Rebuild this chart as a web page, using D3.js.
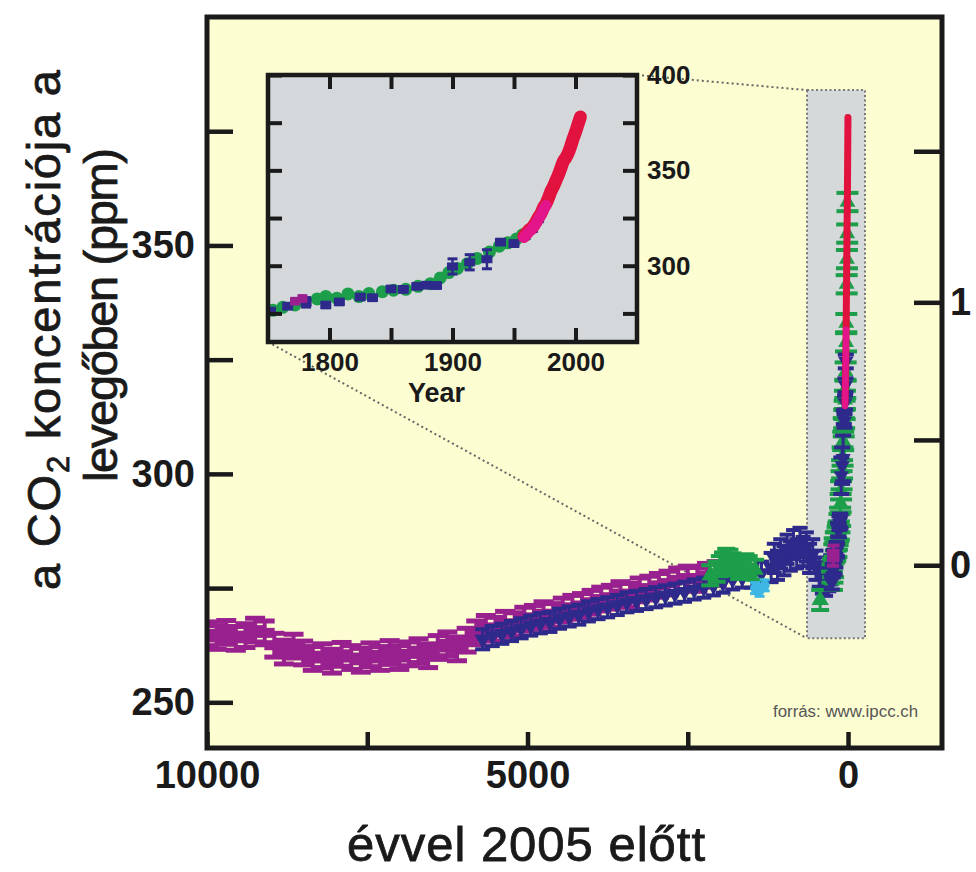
<!DOCTYPE html>
<html>
<head>
<meta charset="utf-8">
<script src="https://cdn.jsdelivr.net/npm/d3@7"></script>
<style>
  body { margin: 0; background: #fff; }
  svg { display: block; font-family: "Liberation Sans", Arial, Helvetica, sans-serif; }
</style>
</head>
<body>
<div id="plot"></div>
<script>
// ---- data: main panel (years before 2005, ppm) ----
const purpleBP  = [10000, 9850, 9700, 9550, 9400, 9250, 9100, 8950, 8800, 8650, 8500, 8350, 8200, 8050, 7900, 7750, 7600, 7450, 7300, 7150, 7000, 6850, 6700, 6550, 6400, 6250, 6100, 5950, 5800, 5650, 5500, 5350, 5200, 5050, 4900, 4750, 4600, 4450, 4300, 4150, 4000, 3850, 3700, 3550, 3400, 3250, 3100, 2950, 2800, 2650, 2500, 2350, 2200, 2050];
const purplePpm = [265.0, 264.2, 265.3, 264.0, 264.6, 265.8, 265.2, 262.5, 261.0, 262.3, 260.8, 259.6, 260.2, 259.0, 260.5, 259.8, 259.2, 260.4, 259.6, 260.9, 259.8, 260.6, 261.3, 260.2, 262.0, 262.8, 261.7, 263.6, 265.2, 266.4, 266.0, 267.3, 267.0, 268.2, 268.6, 269.4, 269.0, 270.2, 270.8, 271.2, 271.9, 272.6, 273.0, 273.8, 273.4, 274.6, 275.0, 275.6, 276.1, 276.8, 277.2, 276.9, 277.8, 278.2];

const blueBP  = [5700, 5550, 5400, 5250, 5100, 4950, 4800, 4650, 4500, 4350, 4200, 4050, 3900, 3750, 3600, 3450, 3300, 3150, 3000, 2850, 2700, 2550, 2400, 2250, 2100, 1950, 1800, 1650, 1500, 1350, 1200, 1150, 1100, 1050, 1000, 950, 900, 850, 800, 750, 700, 650, 600, 550, 500, 450, 400, 350, 300, 270];
const bluePpm = [263.8, 264.5, 265.0, 265.6, 266.2, 266.8, 267.3, 267.6, 268.3, 268.8, 269.2, 269.9, 270.4, 270.8, 271.3, 271.9, 272.2, 272.6, 273.0, 273.4, 273.8, 274.2, 274.7, 275.1, 275.6, 276.2, 276.9, 277.3, 277.6, 278.3, 279.5, 281.5, 280.0, 282.5, 281.0, 283.5, 282.0, 284.5, 282.5, 285.0, 283.0, 284.0, 281.5, 282.5, 280.0, 278.5, 277.0, 276.5, 277.5, 279.0];
const blueErr = [2.2, 2.2, 2.2, 2.2, 2.2, 2.2, 2.2, 2.2, 2.2, 2.2, 2.2, 2.2, 2.2, 2.2, 2.2, 2.2, 2.2, 2.2, 2.2, 2.2, 2.2, 2.2, 2.2, 2.2, 2.2, 2.2, 2.2, 2.2, 2.5, 2.5, 3.2, 3.2, 3.2, 3.2, 3.2, 3.2, 3.2, 3.2, 3.2, 3.2, 3.2, 3.2, 3.2, 3.2, 3.2, 3.2, 3.2, 3.2, 3.2, 3.2];

const greenBP  = [2150, 2050, 2000, 1950, 1900, 1850, 1800, 1750, 1700, 1650, 1600, 1550, 1450, 435];
const greenPpm = [277.8, 278.6, 279.8, 280.6, 281.4, 281.2, 280.4, 280.0, 279.2, 279.4, 280.2, 279.8, 279.0, 272.4];

const cyanBP  = [1450, 1380, 1300];
const cyanPpm = [275.0, 274.4, 275.6];

// ---- data: inset (calendar year, ppm) ----
const insetGreenYear = [1754, 1762, 1772, 1790, 1797, 1806, 1815, 1824, 1832, 1843, 1852, 1862, 1872, 1882, 1890, 1897, 1904, 1912, 1920, 1930, 1938, 1945, 1952, 1957, 1962, 1968, 1974, 1978, 1984, 1988, 1992, 1996];
const insetGreenPpm  = [276.6, 278.2, 279.4, 282.6, 283.9, 283.0, 285.2, 283.8, 285.4, 286.4, 287.2, 287.6, 289.2, 290.6, 293.6, 296.4, 298.6, 301.0, 303.8, 307.2, 310.2, 312.0, 314.0, 316.2, 318.6, 322.4, 328.8, 333.0, 341.5, 347.0, 352.6, 359.5];

const insetBlueYear = [1752, 1766, 1781, 1797, 1808, 1825, 1835, 1850, 1860, 1871, 1879, 1887, 1900, 1914, 1928, 1939, 1950, 1959, 1965, 1970];
const insetBluePpm  = [276.2, 278.8, 280.8, 279.4, 281.0, 283.6, 283.2, 287.8, 287.6, 289.2, 289.8, 289.6, 299.6, 301.8, 303.4, 312.4, 311.6, 315.6, 319.4, 324.6];
const insetBlueErr  = [1.5, 1.5, 2.5, 1.5, 1.5, 1.5, 1.5, 1.5, 1.5, 1.5, 1.5, 1.5, 4.0, 4.0, 5.0, 1.5, 1.5, 1.5, 1.5, 1.5];

const insetPurpleYear = [1772, 1778];
const insetPurplePpm  = [281.4, 282.8];

const redYear = [1958, 1960, 1962, 1964, 1966, 1968, 1970, 1972, 1974, 1976, 1978, 1980, 1982, 1984, 1986, 1988, 1990, 1992, 1994, 1996, 1998, 2000, 2002, 2004];
const redPpm  = [315.5, 317.0, 318.5, 319.5, 321.0, 323.0, 325.5, 327.5, 330.5, 332.5, 335.5, 339.0, 341.5, 344.5, 347.5, 351.0, 354.5, 356.5, 359.0, 362.5, 366.5, 370.0, 374.0, 378.0];

const pinkYear = [1958, 1960, 1962, 1964, 1966, 1968, 1970, 1972, 1974, 1976];
const pinkPpm  = [314.8, 316.2, 317.6, 318.9, 320.4, 322.3, 324.6, 326.8, 329.4, 331.6];

// ---- ticks ----
const mainXTicks = [10000, 7500, 5000, 2500, 0];
const mainXLabels = [10000, 5000, 0];
const mainYTicks = [250, 275, 300, 325, 350, 375];
const mainYLabels = [250, 300, 350];
const forcingTicks = [0, 0.5, 1, 1.5];
const forcingLabels = [0, 1];
const insetXTicks = [1800, 1850, 1900, 1950, 2000];
const insetXLabels = [1800, 1900, 2000];
const insetYTicks = [275, 300, 325, 350, 375, 400];
const insetYLabels = [300, 350, 400];

// highlighted period on the main axis (years before 2005, ppm)
const zoomBoxBP = [640, -265];
const zoomBoxPpm = [264, 384];

const C = {
  bg: "#fdfdd2", inset: "#d5d8da", box: "#d6d9da",
  purple: "#98218f", blue: "#2d2a8c", green: "#1d9e4a", cyan: "#3db6e4",
  red: "#e2123e", pink: "#e2168a", ink: "#1a1a1a"
};

const width = 976, height = 872;
const frame = { left: 207, top: 17, right: 942, bottom: 748 };
const inset = { left: 268, top: 75, right: 637, bottom: 342 };

const svg = d3.select("#plot").append("svg")
  .attr("width", width).attr("height", height);

svg.append("rect").attr("width", width).attr("height", height).attr("fill", "#fff");

// scales
const x = d3.scaleLinear().domain([10000, -1466]).range([frame.left, frame.right]);
const y = d3.scaleLinear().domain([240, 400]).range([frame.bottom, frame.top]);
const ix = d3.scaleLinear().domain([1750, 2050]).range([inset.left, inset.right]);
const iy = d3.scaleLinear().domain([260, 400]).range([inset.bottom, inset.top]);

const defs = svg.append("defs");
defs.append("clipPath").attr("id", "clipMain").append("rect")
  .attr("x", frame.left).attr("y", frame.top)
  .attr("width", frame.right - frame.left).attr("height", frame.bottom - frame.top);
defs.append("clipPath").attr("id", "clipInset").append("rect")
  .attr("x", inset.left).attr("y", inset.top)
  .attr("width", inset.right - inset.left).attr("height", inset.bottom - inset.top);

// main background
svg.append("rect")
  .attr("x", frame.left).attr("y", frame.top)
  .attr("width", frame.right - frame.left).attr("height", frame.bottom - frame.top)
  .attr("fill", C.bg);

// highlight box
svg.append("rect")
  .attr("x", x(zoomBoxBP[0])).attr("y", y(zoomBoxPpm[1]))
  .attr("width", x(zoomBoxBP[1]) - x(zoomBoxBP[0]))
  .attr("height", y(zoomBoxPpm[0]) - y(zoomBoxPpm[1]))
  .attr("fill", C.box)
  .attr("stroke", "#777").attr("stroke-width", 2).attr("stroke-dasharray", "2,2.5");

// connector lines
const conn = svg.append("g").attr("stroke", "#666").attr("stroke-width", 2).attr("stroke-dasharray", "2,3");
conn.append("line")
  .attr("x1", ix(2050)).attr("y1", iy(400))
  .attr("x2", x(zoomBoxBP[0])).attr("y2", y(zoomBoxPpm[1]));
conn.append("line")
  .attr("x1", ix(1750)).attr("y1", iy(260))
  .attr("x2", x(zoomBoxBP[0])).attr("y2", y(zoomBoxPpm[0]));

// error-bar markers
function errorMarks(parent, xs, ys, errs, sx, sy, o) {
  const pts = xs.map((v, i) => ({ x: v, y: ys[i], e: Array.isArray(errs) ? errs[i] : errs }));
  const g = parent.append("g").attr("fill", o.color).attr("stroke", o.color);
  const m = g.selectAll("g").data(pts).join("g")
    .attr("transform", d => `translate(${sx(d.x)},${sy(d.y)})`);
  m.append("line")
    .attr("y1", d => sy(d.y + d.e) - sy(d.y)).attr("y2", d => sy(d.y - d.e) - sy(d.y))
    .attr("stroke-width", o.stem);
  m.append("line")
    .attr("x1", -o.cap / 2).attr("x2", o.cap / 2)
    .attr("y1", d => sy(d.y + d.e) - sy(d.y)).attr("y2", d => sy(d.y + d.e) - sy(d.y))
    .attr("stroke-width", o.capW);
  m.append("line")
    .attr("x1", -o.cap / 2).attr("x2", o.cap / 2)
    .attr("y1", d => sy(d.y - d.e) - sy(d.y)).attr("y2", d => sy(d.y - d.e) - sy(d.y))
    .attr("stroke-width", o.capW);
  if (o.shape === "rect") {
    m.append("rect").attr("x", -o.w / 2).attr("y", -o.h / 2)
      .attr("width", o.w).attr("height", o.h).attr("stroke", "none");
  } else if (o.shape === "circle") {
    m.append("circle").attr("r", o.r).attr("stroke", "none");
  } else {
    m.append("path").attr("stroke", "none")
      .attr("d", d3.symbol(d3.symbolTriangle, o.size))
      .attr("transform", o.shape === "down" ? "rotate(180)" : null);
  }
}

const toBP = yr => 2005 - yr;

// main data
const dataMain = svg.append("g").attr("clip-path", "url(#clipMain)");
errorMarks(dataMain, purpleBP, purplePpm, 2.6, x, y,
  { color: C.purple, stem: 4, cap: 20, capW: 5, shape: "rect", w: 20, h: 10 });
errorMarks(dataMain, blueBP, bluePpm, blueErr, x, y,
  { color: C.blue, stem: 3, cap: 15, capW: 4, shape: "down", size: 120 });
errorMarks(dataMain, greenBP, greenPpm, 2.2, x, y,
  { color: C.green, stem: 3, cap: 18, capW: 4, shape: "up", size: 130 });
errorMarks(dataMain, cyanBP, cyanPpm, 1.2, x, y,
  { color: C.cyan, stem: 3, cap: 10, capW: 3, shape: "circle", r: 5 });
// industrial era compressed near 0
errorMarks(dataMain, insetGreenYear.map(toBP), insetGreenPpm, 2.0, x, y,
  { color: C.green, stem: 3, cap: 22, capW: 4, shape: "up", size: 110 });
errorMarks(dataMain, insetBlueYear.map(toBP), insetBluePpm, insetBlueErr, x, y,
  { color: C.blue, stem: 3, cap: 16, capW: 4, shape: "down", size: 100 });
errorMarks(dataMain, insetPurpleYear.map(toBP), insetPurplePpm, 1.5, x, y,
  { color: C.purple, stem: 3, cap: 12, capW: 4, shape: "rect", w: 12, h: 7 });

const lineMain = d3.line().x(d => x(toBP(d[0]))).y(d => y(d[1]));
dataMain.append("path").datum(d3.zip(redYear, redPpm))
  .attr("d", lineMain).attr("fill", "none").attr("stroke", C.red)
  .attr("stroke-width", 7).attr("stroke-linecap", "round");
dataMain.append("path").datum(d3.zip(pinkYear, pinkPpm))
  .attr("d", lineMain).attr("fill", "none").attr("stroke", C.pink)
  .attr("stroke-width", 6).attr("stroke-linecap", "round");

// main axes
const tickFont = g => g.selectAll("text")
  .style("font-size", "38px").style("font-weight", "bold").attr("fill", C.ink);
const tickLines = g => g.selectAll("line").attr("stroke", C.ink).attr("stroke-width", 4.5);

svg.append("g").attr("transform", `translate(${frame.left},0)`)
  .call(d3.axisLeft(y).tickValues(mainYTicks).tickSize(-26).tickPadding(12)
    .tickFormat(d => mainYLabels.includes(d) ? d : ""))
  .call(g => g.select(".domain").remove())
  .call(tickLines).call(tickFont);

svg.append("g").attr("transform", `translate(0,${frame.bottom})`)
  .call(d3.axisBottom(x).tickValues(mainXTicks).tickSize(-16).tickPadding(13)
    .tickFormat(d => mainXLabels.includes(d) ? d : ""))
  .call(g => g.select(".domain").remove())
  .call(tickLines).call(tickFont);

// radiative forcing axis: F = 5.35 ln(C / 280)
const forcingToPpm = f => 280 * Math.exp(f / 5.35);
svg.append("g").attr("transform", `translate(${frame.right},0)`)
  .call(d3.axisRight(y).tickValues(forcingTicks.map(forcingToPpm)).tickSize(-28).tickPadding(8)
    .tickFormat((d, i) => forcingLabels.includes(forcingTicks[i]) ? forcingTicks[i] : ""))
  .call(g => g.select(".domain").remove())
  .call(tickLines).call(tickFont);

// main frame
svg.append("rect")
  .attr("x", frame.left).attr("y", frame.top)
  .attr("width", frame.right - frame.left).attr("height", frame.bottom - frame.top)
  .attr("fill", "none").attr("stroke", C.ink).attr("stroke-width", 5);

// ---- inset ----
svg.append("rect")
  .attr("x", inset.left).attr("y", inset.top)
  .attr("width", inset.right - inset.left).attr("height", inset.bottom - inset.top)
  .attr("fill", C.inset);

const dataInset = svg.append("g").attr("clip-path", "url(#clipInset)");
dataInset.append("g").attr("fill", C.green)
  .selectAll("circle").data(d3.zip(insetGreenYear, insetGreenPpm).filter(d => d[0] < 1958)).join("circle")
  .attr("cx", d => ix(d[0])).attr("cy", d => iy(d[1])).attr("r", 6.5);
errorMarks(dataInset, insetBlueYear, insetBluePpm, insetBlueErr, ix, iy,
  { color: C.blue, stem: 2.5, cap: 10, capW: 3, shape: "rect", w: 11, h: 8 });
errorMarks(dataInset, insetPurpleYear, insetPurplePpm, 1.5, ix, iy,
  { color: C.purple, stem: 2.5, cap: 9, capW: 3, shape: "rect", w: 10, h: 8 });

const lineInset = d3.line().x(d => ix(d[0])).y(d => iy(d[1])).curve(d3.curveMonotoneX);
dataInset.append("path").datum(d3.zip(redYear, redPpm))
  .attr("d", lineInset).attr("fill", "none").attr("stroke", C.red)
  .attr("stroke-width", 13).attr("stroke-linecap", "round");
dataInset.append("path").datum(d3.zip(pinkYear, pinkPpm))
  .attr("d", lineInset).attr("fill", "none").attr("stroke", C.pink)
  .attr("stroke-width", 11).attr("stroke-linecap", "round");

const insetFont = g => g.selectAll("text")
  .style("font-size", "26px").style("font-weight", "bold").attr("fill", C.ink);
const insetLines = g => g.selectAll("line").attr("stroke", C.ink).attr("stroke-width", 4);

svg.append("g").attr("transform", `translate(0,${inset.bottom})`)
  .call(d3.axisBottom(ix).tickValues(insetXTicks).tickSize(-14).tickPadding(11)
    .tickFormat(d => insetXLabels.includes(d) ? d : ""))
  .call(g => g.select(".domain").remove())
  .call(insetLines).call(insetFont);
svg.append("g").attr("transform", `translate(0,${inset.top})`)
  .call(d3.axisTop(ix).tickValues(insetXTicks).tickSize(-14).tickFormat(""))
  .call(g => g.select(".domain").remove())
  .call(insetLines);
svg.append("g").attr("transform", `translate(${inset.right},0)`)
  .call(d3.axisRight(iy).tickValues(insetYTicks).tickSize(-14).tickPadding(10)
    .tickFormat(d => insetYLabels.includes(d) ? d : ""))
  .call(g => g.select(".domain").remove())
  .call(insetLines).call(insetFont);
svg.append("g").attr("transform", `translate(${inset.left},0)`)
  .call(d3.axisLeft(iy).tickValues(insetYTicks).tickSize(-14).tickFormat(""))
  .call(g => g.select(".domain").remove())
  .call(insetLines);

svg.append("rect")
  .attr("x", inset.left).attr("y", inset.top)
  .attr("width", inset.right - inset.left).attr("height", inset.bottom - inset.top)
  .attr("fill", "none").attr("stroke", C.ink).attr("stroke-width", 4.5);

svg.append("text")
  .attr("x", ix(1887)).attr("y", 402)
  .attr("text-anchor", "middle")
  .style("font-size", "27px").style("font-weight", "bold").attr("fill", C.ink)
  .text("Year");

// ---- titles ----
const titleStyle = t => t.attr("text-anchor", "middle").attr("fill", C.ink)
  .attr("stroke", C.ink).attr("stroke-width", 0.8).attr("lengthAdjust", "spacing");

const yTitle1 = svg.append("text")
  .attr("transform", "translate(60,330) rotate(-90)")
  .attr("textLength", 520)
  .style("font-size", "47px").call(titleStyle);
yTitle1.append("tspan").text("a CO");
yTitle1.append("tspan").attr("dy", 9).style("font-size", "31px").text("2");
yTitle1.append("tspan").attr("dy", -9).text(" koncentrációja a");

svg.append("text")
  .attr("transform", "translate(117,315) rotate(-90)")
  .attr("textLength", 334)
  .style("font-size", "47px").call(titleStyle)
  .text("levegőben (ppm)");

svg.append("text")
  .attr("x", 526).attr("y", 861)
  .attr("textLength", 358)
  .style("font-size", "49px").call(titleStyle)
  .text("évvel 2005 előtt");

svg.append("text")
  .attr("x", 773).attr("y", 717)
  .attr("textLength", 145).attr("lengthAdjust", "spacingAndGlyphs")
  .style("font-size", "16px").attr("fill", "#555")
  .text("forrás: www.ipcc.ch");
</script>
</body>
</html>
